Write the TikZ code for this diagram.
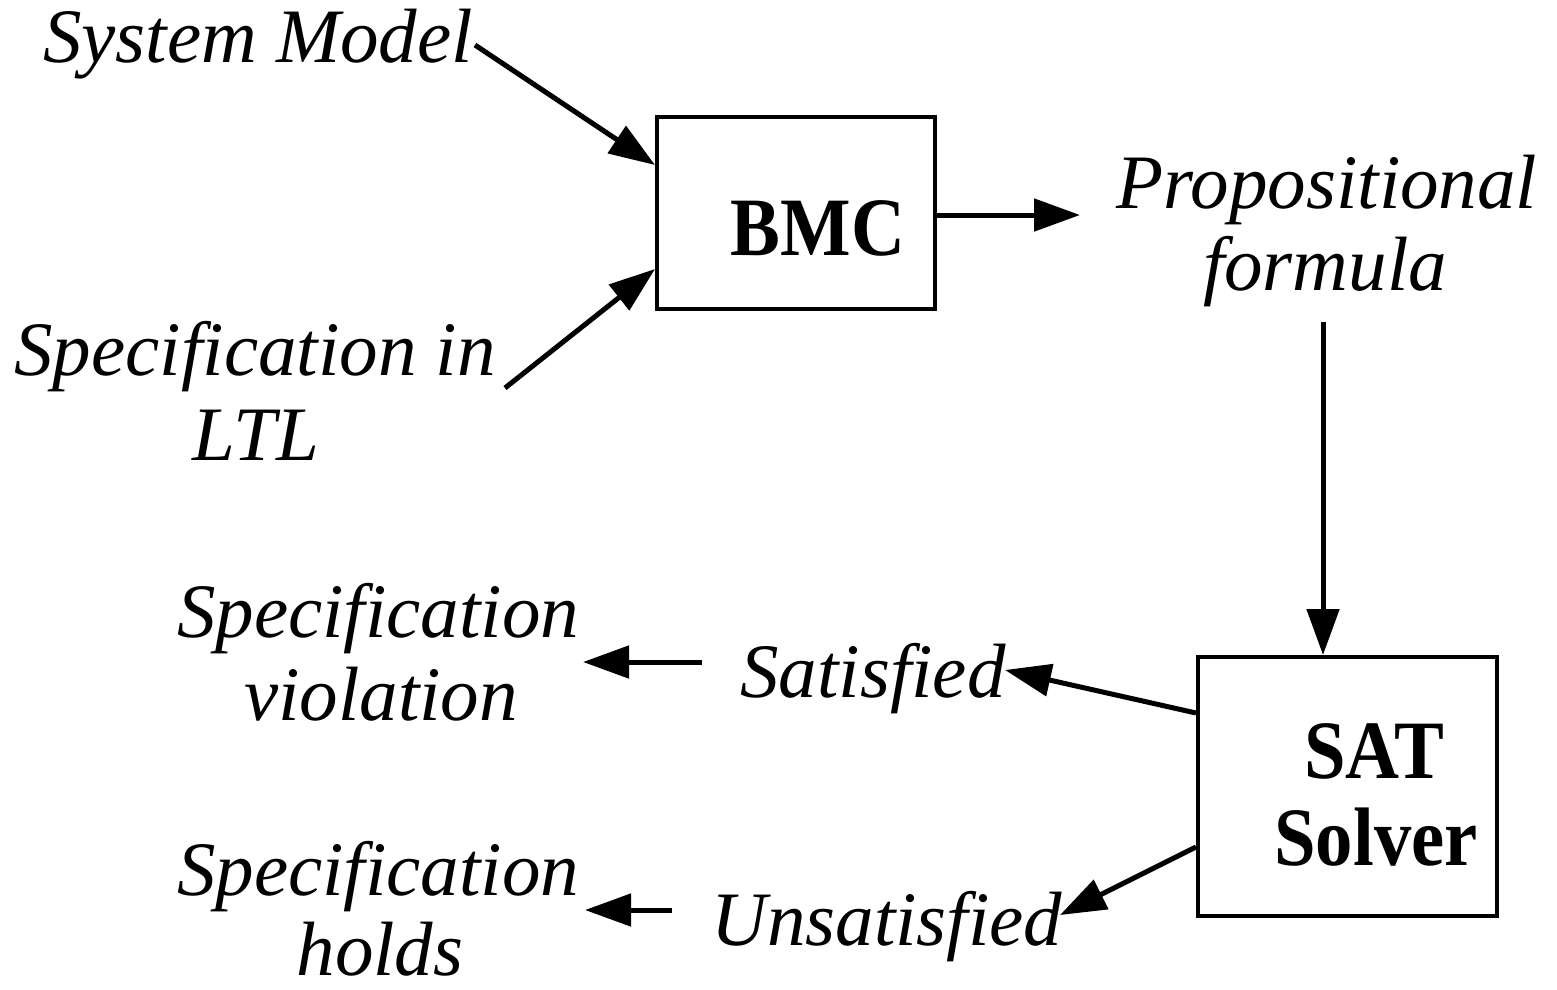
\documentclass[tikz,border=0pt]{standalone}
\usepackage{fontspec}
\setmainfont{Liberation Serif}
\newfontfamily\condserif[FakeStretch=0.9]{Liberation Serif}
\usetikzlibrary{arrows.meta,calc}

\tikzset{
  lbl/.style={font=\fontsize{77}{83}\selectfont\itshape, inner sep=0pt, anchor=base},
  boxtext/.style={font=\condserif\fontsize{83}{90}\selectfont\bfseries, inner sep=0pt, anchor=base},
  block/.style={draw, line width=4pt, inner sep=0pt},
  flow/.style={line width=5pt, -{Triangle[length=46pt,width=32pt]}}
}

\begin{document}
\begin{tikzpicture}[x=1pt, y=-1pt]
  \useasboundingbox (0,0) rectangle (1557,989);

  % processing blocks
  \node[block, minimum width=278pt, minimum height=192pt] (bmc) at (796,213) {};
  \node[boxtext] (bmctxt) at (818,255) {BMC};
  \node[block, minimum width=299pt, minimum height=259pt] (sat) at (1347.5,786.5) {};
  \node[boxtext] (sattxt) at (1374,778) {SAT};
  \node[boxtext] (solvertxt) at (1376,865) {Solver};

  % labels
  \node[lbl] (sysmodel) at (258,62) {System Model};
  \node[lbl] (spec1) at (255,375) {Specification in};
  \node[lbl] (spec2) at (256,460) {LTL};
  \node[lbl] (prop1) at (1327,208) {Propositional};
  \node[lbl] (prop2) at (1325,290) {formula};
  \node[lbl] (satisfied) at (873,697) {Satisfied};
  \node[lbl] (unsat) at (887,945) {Unsatisfied};
  \node[lbl] (viol1) at (378,637) {Specification};
  \node[lbl] (viol2) at (381,720) {violation};
  \node[lbl] (hold1) at (378,895) {Specification};
  \node[lbl] (hold2) at (380,975) {holds};

  % connector end points
  \coordinate (sysA) at (475,45);
  \coordinate (bmcIn1) at ($(bmc.north west)+(0,50)$);
  \coordinate (specA) at (505,388);
  \coordinate (bmcIn2) at ($(bmc.south west)+(0,-42)$);
  \coordinate (bmcOut) at ($(bmc.east)+(0,2)$);
  \coordinate (propTip) at (1080,215);
  \coordinate (propA) at (1323,322);
  \coordinate (satIn) at ($(sat.north)+(-24.5,0)$);
  \coordinate (satOut1) at ($(sat.north west)+(0,58)$);
  \coordinate (satTip) at (1005,670);
  \coordinate (satOut2) at ($(sat.south west)+(0,-71)$);
  \coordinate (unsatTip) at (1060,915);
  \coordinate (violA) at (702,662);
  \coordinate (violTip) at (583,662);
  \coordinate (holdA) at (672,910);
  \coordinate (holdTip) at (585,910);

  % connectors
  \draw[flow] (sysA) -- (bmcIn1);
  \draw[flow] (specA) -- (bmcIn2);
  \draw[flow] (bmcOut) -- (propTip);
  \draw[flow] (propA) -- (satIn);
  \draw[flow] (satOut1) -- (satTip);
  \draw[flow] (satOut2) -- (unsatTip);
  \draw[flow] (violA) -- (violTip);
  \draw[flow] (holdA) -- (holdTip);
\end{tikzpicture}
\end{document}
